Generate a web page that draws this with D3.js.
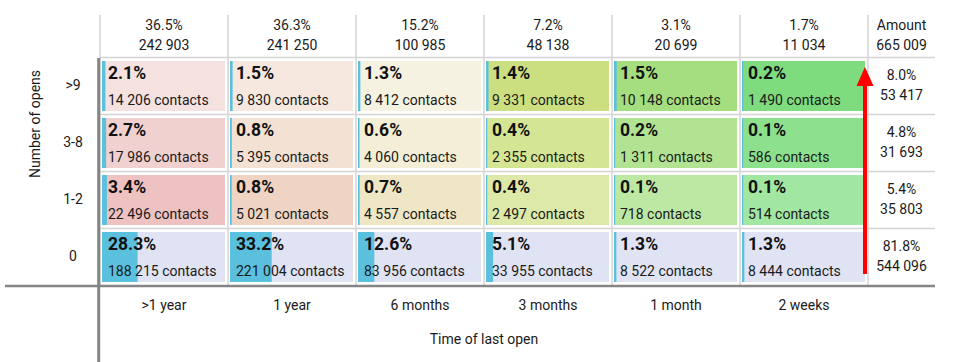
<!DOCTYPE html>
<html><head><meta charset="utf-8">
<script src="https://cdn.jsdelivr.net/npm/d3@7"></script>
<style>
html,body{margin:0;padding:0;background:#fff;}
svg{display:block;font-family:Roboto,"Noto Sans",sans-serif;}
</style></head>
<body><svg id="chart" width="956" height="362"></svg>
<script>
const rows = [">9", "3-8", "1-2", "0"];
const cols = [">1 year", "1 year", "6 months", "3 months", "1 month", "2 weeks"];
const counts = [
  [14206, 9830, 8412, 9331, 10148, 1490],
  [17986, 5395, 4060, 2355, 1311, 586],
  [22496, 5021, 4557, 2497, 718, 514],
  [188215, 221004, 83956, 33955, 8522, 8444]
];
const pcts = [
  [2.1, 1.5, 1.3, 1.4, 1.5, 0.2],
  [2.7, 0.8, 0.6, 0.4, 0.2, 0.1],
  [3.4, 0.8, 0.7, 0.4, 0.1, 0.1],
  [28.3, 33.2, 12.6, 5.1, 1.3, 1.3]
];
const colPcts = [36.5, 36.3, 15.2, 7.2, 3.1, 1.7];
const colTotals = [242903, 241250, 100985, 48138, 20699, 11034];
const rowPcts = [8.0, 4.8, 5.4, 81.8];
const rowTotals = [53417, 31693, 35803, 544096];
const grandTotal = 665009;
const cellColors = [
  ["#f5e1e0", "#f6e8df", "#f5f2e1", "#cbdf80", "#a5de7f", "#7edb7e"],
  ["#f1d1d0", "#f3e1d3", "#f3eed5", "#d4e693", "#b1e393", "#8de18d"],
  ["#eec2c1", "#efd4c4", "#efe6c5", "#dce9a8", "#bde8a3", "#a1e6a1"],
  ["#e0e3f4", "#e0e3f4", "#e0e3f4", "#e0e3f4", "#e0e3f4", "#e0e3f4"]
];

const fmt = v => d3.format(",")(v).replace(/,/g, " ");
const fmtP = v => d3.format(".1f")(v) + "%";

const svg = d3.select("#chart");
const x = d3.scaleBand().domain(cols).range([100, 868]);
const y = d3.scaleBand().domain(rows).range([57.5, 285.5]);
const rightX = 868, rightEnd = 935;
const bw = x.bandwidth(), bh = y.bandwidth();
const cellW = bw - 5, cellH = bh - 7;
const barScale = d3.scaleLinear().domain([0, 100]).range([0, cellW]);

const grid = svg.append("g");
const lightC = "#d4d4d4";
[57.5].concat(rows.slice(1).map(r => y(r))).forEach(v => {
  grid.append("line").attr("x1", 100).attr("x2", rightEnd).attr("y1", v).attr("y2", v)
    .attr("stroke", lightC).attr("stroke-width", 1.5);
});
cols.forEach((c, i) => {
  grid.append("line").attr("x1", x(c)).attr("x2", x(c)).attr("y1", 15).attr("y2", 285.5)
    .attr("stroke", lightC).attr("stroke-width", 1.5);
});
grid.append("line").attr("x1", rightX).attr("x2", rightX).attr("y1", 15).attr("y2", 285.5)
  .attr("stroke", lightC).attr("stroke-width", 1.5);

const cellG = svg.append("g");
rows.forEach((r, ri) => {
  cols.forEach((c, ci) => {
    const cx = x(c) + 2, cy = y(r) + 3.5;
    cellG.append("rect").attr("x", cx).attr("y", cy).attr("width", cellW).attr("height", cellH)
      .attr("fill", cellColors[ri][ci]);
    cellG.append("rect").attr("x", cx).attr("y", cy)
      .attr("width", Math.max(1.2, barScale(counts[ri][ci] / grandTotal * 100) + 0.8))
      .attr("height", cellH).attr("fill", "#5bc0de");
    cellG.append("text").attr("x", cx + 6).attr("y", y(r) + 21.5)
      .attr("font-size", 17.5).attr("font-weight", "bold").attr("fill", "#111")
      .text(fmtP(pcts[ri][ci]));
    cellG.append("text").attr("x", cx + 6).attr("y", y(r) + 47)
      .attr("font-size", 14).attr("fill", "#1a1a1a")
      .text(fmt(counts[ri][ci]) + " contacts");
  });
  const mx = (rightX + rightEnd) / 2;
  cellG.append("text").attr("x", mx).attr("y", y(r) + 22.5).attr("text-anchor", "middle")
    .attr("font-size", 14).attr("fill", "#1a1a1a").text(fmtP(rowPcts[ri]));
  cellG.append("text").attr("x", mx).attr("y", y(r) + 42.5).attr("text-anchor", "middle")
    .attr("font-size", 14).attr("fill", "#1a1a1a").text(fmt(rowTotals[ri]));
  svg.append("text").attr("x", 73).attr("y", y(r) + bh / 2 + 3.5).attr("text-anchor", "middle")
    .attr("font-size", 14).attr("fill", "#1a1a1a").text(r);
});

cols.forEach((c, ci) => {
  const mx = x(c) + bw / 2;
  svg.append("text").attr("x", mx).attr("y", 29.5).attr("text-anchor", "middle")
    .attr("font-size", 14).attr("fill", "#1a1a1a").text(fmtP(colPcts[ci]));
  svg.append("text").attr("x", mx).attr("y", 49.5).attr("text-anchor", "middle")
    .attr("font-size", 14).attr("fill", "#1a1a1a").text(fmt(colTotals[ci]));
  svg.append("text").attr("x", mx).attr("y", 309.5).attr("text-anchor", "middle")
    .attr("font-size", 14).attr("fill", "#1a1a1a").text(c);
});
svg.append("text").attr("x", (rightX + rightEnd) / 2).attr("y", 29.5).attr("text-anchor", "middle")
  .attr("font-size", 14).attr("fill", "#1a1a1a").text("Amount");
svg.append("text").attr("x", (rightX + rightEnd) / 2).attr("y", 49.5).attr("text-anchor", "middle")
  .attr("font-size", 14).attr("fill", "#1a1a1a").text(fmt(grandTotal));

svg.append("text").attr("x", (100 + 868) / 2).attr("y", 344).attr("text-anchor", "middle")
  .attr("font-size", 14).attr("fill", "#1a1a1a").text("Time of last open");
svg.append("text").attr("transform", "translate(40,124) rotate(-90)").attr("text-anchor", "middle")
  .attr("font-size", 14).attr("fill", "#1a1a1a").text("Number of opens");

svg.append("line").attr("x1", 98.7).attr("x2", 98.7).attr("y1", 58).attr("y2", 362)
  .attr("stroke", "#858585").attr("stroke-width", 3);
svg.append("line").attr("x1", 5).attr("x2", rightEnd).attr("y1", 286).attr("y2", 286)
  .attr("stroke", "#858585").attr("stroke-width", 2.5);

const ax = x(cols[cols.length - 1]) + bw - 3;
const yTop = y(rows[0]) + 9.5, yBot = y(rows[rows.length - 1]) + bh - 11.5;
svg.append("line").attr("x1", ax).attr("x2", ax).attr("y1", yBot).attr("y2", yTop + 15)
  .attr("stroke", "#ff0000").attr("stroke-width", 4);
svg.append("path").attr("d", `M${ax},${yTop} L${ax + 8.5},${yTop + 19} L${ax - 8.5},${yTop + 19} Z`)
  .attr("fill", "#ff0000");
</script></body></html>
